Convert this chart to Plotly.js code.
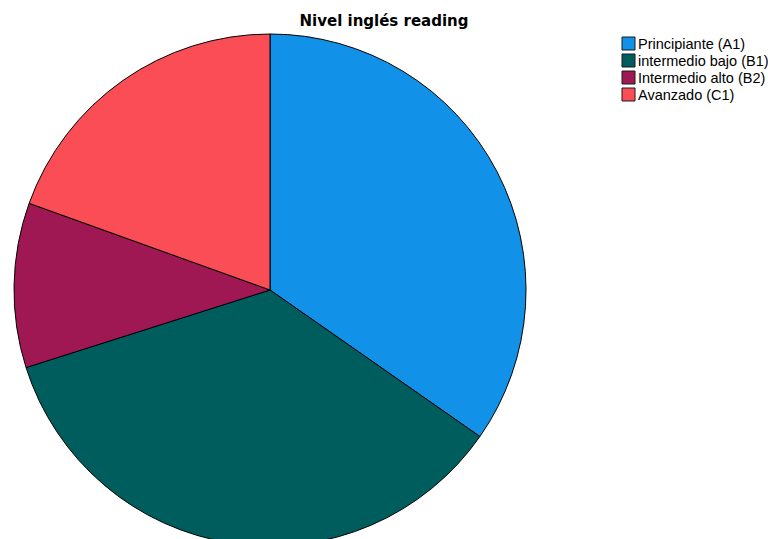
<!DOCTYPE html>
<html>
<head>
<meta charset="utf-8">
<script src="https://cdn.plot.ly/plotly-3.0.1.min.js"></script>
<style>
html,body{margin:0;padding:0;overflow:hidden;background:#fff;width:768px;height:539px;}
#chart{width:768px;height:560px;}
</style>
</head>
<body>
<div id="chart"></div>
<script>
const categories = ["Principiante (A1)", "intermedio bajo (B1)", "Intermedio alto (B2)", "Avanzado (C1)"];
const values = [34.7, 35.4, 10.4, 19.5];
const colors = ["#1192e8", "#005d5d", "#9f1853", "#fa4d56"];

const W = 768, H = 560;
const cx = 270, cy = 290, r = 256;
const px = x => x / W;
const py = y => 1 - y / H;

const data = [{
  type: "pie",
  labels: categories,
  values: values,
  sort: false,
  direction: "clockwise",
  rotation: 0,
  textinfo: "none",
  hoverinfo: "label+percent",
  showlegend: false,
  marker: {colors: colors, line: {color: "#000000", width: 1}},
  domain: {x: [px(cx - r), px(cx + r)], y: [py(cy + r), py(cy - r)]}
}];

// legend drawn from the same category / colour arrays
const legX = 622, legY = 37, sw = 13, step = 17;
const shapes = [], annotations = [];
categories.forEach((c, i) => {
  const top = legY + i * step;
  shapes.push({
    type: "rect", xref: "paper", yref: "paper",
    x0: px(legX), x1: px(legX + sw), y0: py(top + sw), y1: py(top),
    fillcolor: colors[i], line: {color: "#1a1a1a", width: 1}
  });
  annotations.push({
    xref: "paper", yref: "paper", x: px(legX + sw + 1), y: py(top + sw / 2 + 0.5),
    xanchor: "left", yanchor: "middle", showarrow: false, text: c,
    font: {family: "Liberation Sans, Arial, sans-serif", size: 14.5, color: "#000"}
  });
});

const layout = {
  width: W,
  height: H,
  margin: {l: 0, r: 0, t: 0, b: 0},
  paper_bgcolor: "#ffffff",
  title: {
    text: "<b>Nivel inglés reading</b>",
    font: {family: "DejaVu Sans, sans-serif", size: 15, color: "#000"},
    x: 0.5, xref: "paper", xanchor: "center",
    y: 1 - 20.5 / H, yref: "container", yanchor: "middle"
  },
  showlegend: false,
  shapes: shapes,
  annotations: annotations
};

Plotly.newPlot("chart", data, layout, {displayModeBar: false, staticPlot: true});
</script>
</body>
</html>
